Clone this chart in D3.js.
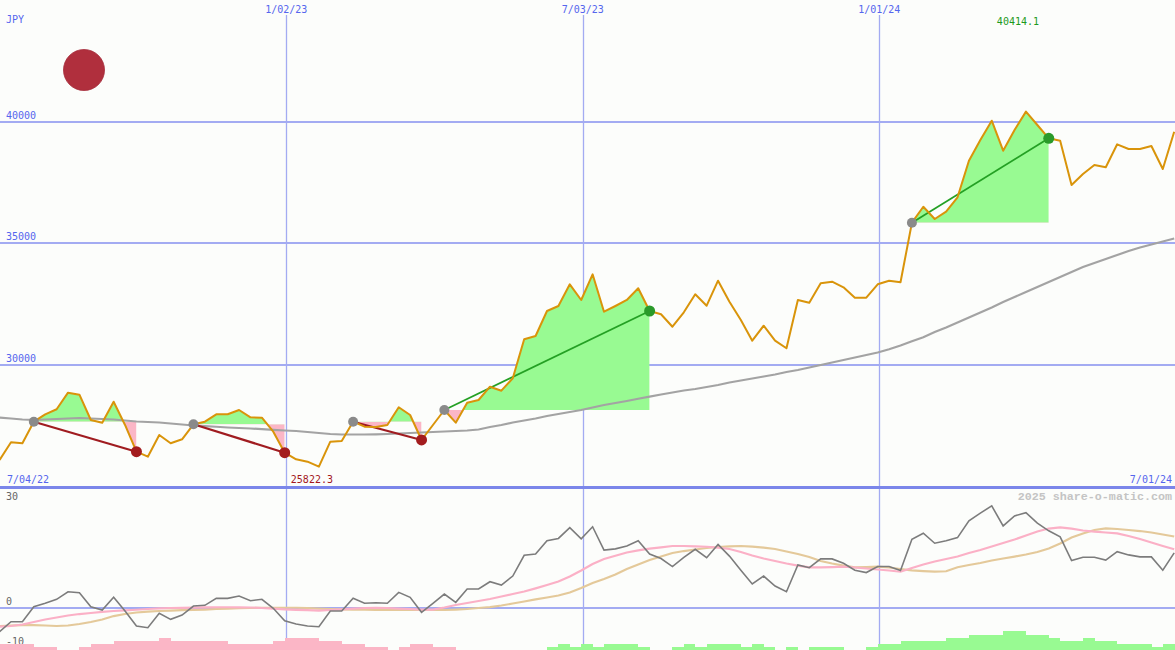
<!DOCTYPE html>
<html><head><meta charset="utf-8">
<script src="https://cdn.jsdelivr.net/npm/d3@7/dist/d3.min.js"></script>
<style>
html,body{margin:0;padding:0;background:#fcfdfb;}
svg{display:block;}
text{font-family:"DejaVu Sans Mono",monospace;font-size:10px;}
</style></head>
<body>
<svg id="chart" width="1175" height="650"></svg>
<script>
// ---- DATA ----
const startWeek = "2022-07-10";
const endWeek = "2024-06-30";
const edgeLabels = ["7/04/22", "7/01/24"];
const currency = "JPY";
const priceTicks = [30000, 35000, 40000];
const oscTicks = [-10, 0, 30];
const gridDates = ["2023-01-02", "2023-07-03", "2024-01-01"];
const price = [26100,26823,26782,27670,27974,28180,28862,28780,27740,27629,
 28492,27536,26437,26231,27123,26782,26947,27563,27670,27974,
 27974,28151,27851,27835,27259,26396,26125,26026,25822.3,26848,
 26877,27670,27464,27452,27534,28262,27945,26918,27534,28151,
 27629,28451,28562,29108,28944,29454,31057,31192,32220,32425,
 33317,32672,33728,32191,32425,32672,33153,32220,32084,31574,
 32166,32906,32438,33465,32602,31850,30999,31616,30999,30687,
 32672,32561,33358,33424,33194,32766,32766,33317,33465,33399,
 35849,36506,36001,36301,36893,38397,39248,40041,38808,39659,
 40414.1,39864,39318,39219,37398,37850,38220,38126,39071,38878,
 38878,39001,38056,39589];
const longAvg = [27834,27802,27761,27740,27761,27781,27802,27822,27802,27781,
 27761,27719,27678,27658,27637,27596,27555,27514,27485,27461,
 27432,27411,27391,27362,27337,27308,27288,27247,27206,27165,
 27144,27144,27144,27152,27165,27185,27206,27226,27247,27267,
 27288,27308,27350,27452,27534,27637,27719,27802,27904,27987,
 28069,28151,28254,28356,28439,28521,28611,28698,28788,28870,
 28952,29014,29096,29178,29281,29363,29446,29528,29610,29713,
 29795,29898,30000,30103,30206,30309,30411,30514,30646,30802,
 30975,31139,31357,31542,31747,31953,32158,32364,32590,32795,
 33001,33206,33412,33617,33823,34028,34193,34357,34521,34686,
 34830,34953,35076,35200];
const oscillator = [-6.02,-3.53,-3.53,0.2,1.05,2.04,3.93,3.68,0.2,-0.62,
 2.54,-0.87,-4.61,-5.03,-1.44,-2.94,-1.87,0.37,0.55,2.29,
 2.29,2.86,1.69,2.04,-0.2,-3.29,-4.11,-4.61,-4.78,-0.87,
 -0.87,2.29,1.05,1.19,1.05,3.78,2.54,-1.19,1.05,3.36,
 1.29,4.61,4.61,6.42,5.6,7.84,13.0,13.3,16.6,17.2,
 19.9,17.1,20.1,14.3,14.6,15.3,16.6,13.3,12.2,10.2,
 12.5,14.5,12.4,15.7,12.8,9.3,5.85,7.84,5.35,3.93,
 10.6,9.9,12.1,12.1,11.0,9.3,8.7,10.2,10.2,9.2,
 17.0,18.5,16.0,16.6,17.4,21.6,23.5,25.3,20.3,22.8,
 23.6,21.0,19.1,17.6,11.7,12.5,12.5,11.8,13.9,13.1,
 12.6,12.6,9.3,13.6];
const fastAvg = [-4.78,-4.60,-4.23,-3.61,-2.99,-2.49,-1.99,-1.62,-1.37,-1.07,
 -0.87,-0.70,-0.55,-0.37,-0.20,-0.12,-0.07,-0.02,0.02,0.07,
 0.07,0.05,0,-0.12,-0.25,-0.45,-0.57,-0.67,-0.75,-0.62,
 -0.45,-0.25,-0.12,-0.07,-0.12,-0.25,-0.37,-0.50,-0.50,0,
 0.62,1.12,1.62,2.12,2.74,3.36,3.98,4.78,5.60,6.47,
 7.72,9.21,10.83,12.07,12.89,13.69,14.24,14.64,14.98,15.31,
 15.31,15.23,15.13,14.93,14.56,13.81,12.94,12.20,11.57,10.95,
 10.45,10.01,10.01,10.08,10.16,9.96,9.71,9.46,9.21,8.91,
 9.83,10.70,11.45,12.07,12.69,13.57,14.31,15.18,16.05,16.93,
 17.92,18.92,19.66,19.96,19.66,19.17,18.87,18.67,18.47,17.80,
 17.05,16.18,15.31,14.49];
const slowAvg = [-4.60,-4.48,-4.36,-4.36,-4.48,-4.60,-4.48,-4.11,-3.61,-2.99,
 -2.12,-1.62,-1.24,-1.00,-0.87,-0.75,-0.67,-0.62,-0.50,-0.37,
 -0.25,-0.17,-0.12,-0.07,-0.05,-0.05,-0.05,-0.12,-0.25,-0.37,
 -0.45,-0.50,-0.55,-0.62,-0.62,-0.62,-0.62,-0.62,-0.62,-0.62,
 -0.50,-0.37,-0.12,0.12,0.50,1.00,1.49,2.04,2.49,2.99,
 3.73,4.85,6.10,7.09,8.21,9.58,10.70,11.82,12.69,13.57,
 14.06,14.44,14.81,15.06,15.23,15.31,15.18,14.93,14.56,13.94,
 13.32,12.57,11.57,10.95,10.45,10.01,10.08,10.16,9.96,9.58,
 9.26,9.08,8.96,9.03,10.03,10.58,11.08,11.70,12.20,12.69,
 13.19,13.81,14.69,15.93,17.42,18.42,19.29,19.71,19.54,19.29,
 19.04,18.67,18.17,17.67];
const histogram = [-2,-2,-2,-1,-1,0,0,-1,-2,-2,
 -3,-3,-3,-3,-4,-3,-3,-3,-3,-3,
 -2,-2,-2,-2,-3,-4,-4,-4,-3,-3,
 -2,-2,-1,-1,0,-1,-2,-2,-1,-1,
 0,0,0,0,0,0,0,0,1,2,
 1,2,1,2,2,2,1,0,0,1,
 2,1,2,2,2,1,2,1,0,1,
 0,1,1,1,0,0,1,2,2,3,
 3,3,3,4,4,5,5,5,6,6,
 5,5,4,3,3,4,3,3,2,2,
 2,1,2,2];
// trades: entry week index, exit week index
const tradeEntry = [3, 17, 31, 39, 80];
const tradeExit  = [12, 25, 37, 57, 92];
const brand = "2025 share-o-matic.com";

// ---- BUILD ----
const parse = d3.utcParse("%Y-%m-%d");
const fmt = d3.utcFormat("%-m/%d/%y");
const dates = d3.utcSunday.range(parse(startWeek), d3.utcDay.offset(parse(endWeek), 1));
const W = 1175, H = 650;
const svg = d3.select("#chart");

const x = d3.scaleUtc().domain([parse(startWeek), parse(endWeek)]).range([-0.4, 1174.2]);
const y = d3.scaleLinear().domain([30000, 40000]).range([365, 121.7]);
const y2 = d3.scaleLinear().domain([-10, 30]).range([647.7, 487]);
const hH = d3.scaleLinear().domain([0, 1]).range([0, 3.1]);
const step = x(dates[1]) - x(dates[0]);

const gridC = "#a3abf2", axisC = "#7b86ea", labelC = "#5566ee";

// background
svg.append("rect").attr("width", W).attr("height", H).attr("fill", "#fcfdfb");

// horizontal price gridlines
svg.append("g").selectAll("line").data(priceTicks).join("line")
  .attr("x1", 0).attr("x2", W).attr("y1", d => y(d)).attr("y2", d => y(d))
  .attr("stroke", gridC).attr("stroke-width", 2).attr("shape-rendering", "crispEdges");
svg.append("g").selectAll("text").data(priceTicks).join("text")
  .attr("x", 6).attr("y", d => y(d) - 3).attr("fill", labelC).text(d => d);

// vertical date gridlines
const gd = gridDates.map(parse);
svg.append("g").selectAll("line").data(gd).join("line")
  .attr("x1", d => Math.round(x(d)) + 0.5).attr("x2", d => Math.round(x(d)) + 0.5)
  .attr("y1", 15).attr("y2", H).attr("stroke", gridC).attr("stroke-width", 1.3);
svg.append("g").selectAll("text").data(gd).join("text")
  .attr("x", d => x(d)).attr("y", 13).attr("text-anchor", "middle")
  .attr("fill", labelC).text(d => fmt(d));

// lower panel zero line
svg.append("line").attr("x1", 0).attr("x2", W).attr("y1", y2(0)).attr("y2", y2(0))
  .attr("stroke", gridC).attr("stroke-width", 2).attr("shape-rendering", "crispEdges");
// separator
svg.append("line").attr("x1", 0).attr("x2", W).attr("y1", y2(30)).attr("y2", y2(30))
  .attr("stroke", axisC).attr("stroke-width", 3).attr("shape-rendering", "crispEdges");

// labels
svg.append("text").attr("x", 6).attr("y", 23).attr("fill", labelC).text(currency);
svg.append("text").attr("x", 7).attr("y", 483).attr("fill", labelC).text(edgeLabels[0]);
svg.append("text").attr("x", 1172).attr("y", 483).attr("text-anchor", "end").attr("fill", labelC).text(edgeLabels[1]);
svg.append("text").attr("x", 1172).attr("y", 500).attr("text-anchor", "end")
  .attr("fill", "#c4c4c4").style("font-family", "'Liberation Mono',monospace")
  .style("font-size", "11.7px").style("font-weight", "bold").text(brand);
svg.append("g").selectAll("text").data(oscTicks).join("text")
  .attr("x", 6).attr("y", d => d === 30 ? 500 : y2(d) - 3)
  .attr("fill", "#666").text(d => d);

// red status dot
svg.append("circle").attr("cx", 84).attr("cy", 70).attr("r", 20.5)
  .attr("fill", "#b02f3d").attr("stroke", "#a52a38").attr("stroke-width", 0.8);

// trade fills
const defs = svg.append("defs");
const pts = price.map((v, i) => ({date: dates[i], v}));
tradeEntry.forEach((e, t) => {
  const xo = tradeExit[t];
  const base = price[e];
  const seg = pts.slice(e, xo + 1);
  const x0 = x(dates[e]), x1 = x(dates[xo]);
  const ab = "ca" + t, be = "cb" + t;
  defs.append("clipPath").attr("id", ab).append("rect")
    .attr("x", x0).attr("width", x1 - x0).attr("y", 0).attr("height", y(base));
  defs.append("clipPath").attr("id", be).append("rect")
    .attr("x", x0).attr("width", x1 - x0).attr("y", y(base)).attr("height", 487 - y(base));
  const area = d3.area().x(d => x(d.date)).y0(y(base)).y1(d => y(d.v));
  svg.append("path").datum(seg).attr("d", area).attr("fill", "#98fa92").attr("clip-path", `url(#${ab})`);
  svg.append("path").datum(seg).attr("d", area).attr("fill", "#fbb6c6").attr("clip-path", `url(#${be})`);
});

// long moving average
const line = d3.line().x(d => x(d.date)).y(d => y(d.v));
svg.append("path").datum(longAvg.map((v, i) => ({date: dates[i], v})))
  .attr("d", line).attr("fill", "none").attr("stroke", "#a3a3a3").attr("stroke-width", 2.2);

// trade lines
tradeEntry.forEach((e, t) => {
  const xo = tradeExit[t];
  const win = price[xo] > price[e];
  svg.append("line").attr("x1", x(dates[e])).attr("y1", y(price[e]))
    .attr("x2", x(dates[xo])).attr("y2", y(price[xo]))
    .attr("stroke", win ? "#24a024" : "#a01c20").attr("stroke-width", win ? 1.8 : 2.2);
});

// price line
svg.append("path").datum(pts).attr("d", line).attr("fill", "none")
  .attr("stroke", "#d9940a").attr("stroke-width", 2).attr("stroke-linejoin", "round");

// trade markers
tradeEntry.forEach((e, t) => {
  const xo = tradeExit[t];
  const win = price[xo] > price[e];
  svg.append("circle").attr("cx", x(dates[e])).attr("cy", y(price[e])).attr("r", 5).attr("fill", "#8a8a8a");
  svg.append("circle").attr("cx", x(dates[xo])).attr("cy", y(price[xo])).attr("r", 5.5)
    .attr("fill", win ? "#2a9a2a" : "#a31c1e");
});

// max / min labels
const iMax = d3.maxIndex(price), iMin = d3.minIndex(price);
svg.append("text").attr("x", x(dates[iMax]) - 8).attr("y", 25).attr("text-anchor", "middle")
  .attr("fill", "#1d9a1d").text(d3.format(".1f")(price[iMax]));
svg.append("text").attr("x", x(dates[iMin]) - 7).attr("y", 483).attr("text-anchor", "middle")
  .attr("fill", "#a3181c").text(d3.format(".1f")(price[iMin]));

// histogram
svg.append("g").selectAll("rect").data(histogram.map((v, i) => ({date: dates[i], v}))).join("rect")
  .attr("x", d => x(d.date)).attr("width", step + 0.2)
  .attr("y", d => H - hH(Math.abs(d.v))).attr("height", d => hH(Math.abs(d.v)))
  .attr("fill", d => d.v < 0 ? "#fbb6c6" : "#98fa92").attr("shape-rendering", "crispEdges");

// oscillator lines
const line2 = d3.line().x(d => x(d.date)).y(d => y2(d.v));
const ser = (arr) => arr.map((v, i) => ({date: dates[i], v}));
svg.append("path").datum(ser(slowAvg)).attr("d", line2).attr("fill", "none")
  .attr("stroke", "#e4c99a").attr("stroke-width", 2.2);
svg.append("path").datum(ser(fastAvg)).attr("d", line2).attr("fill", "none")
  .attr("stroke", "#fbb0c6").attr("stroke-width", 2.2);
svg.append("path").datum(ser(oscillator)).attr("d", line2).attr("fill", "none")
  .attr("stroke", "#7c7c7c").attr("stroke-width", 1.6);
</script>
</body></html>
